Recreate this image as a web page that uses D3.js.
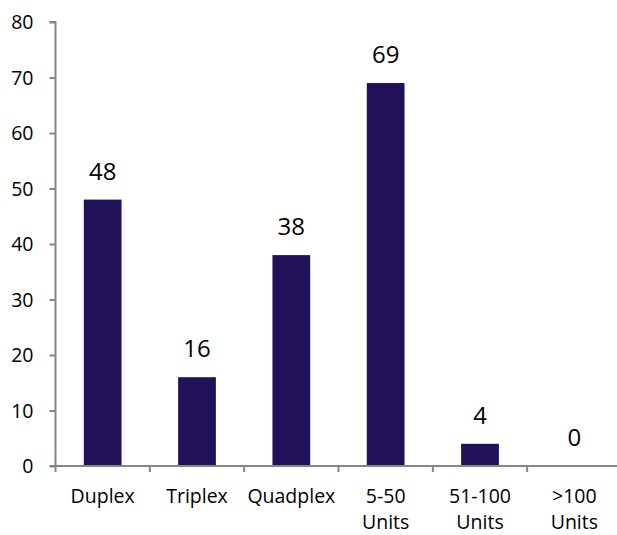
<!DOCTYPE html>
<html>
<head>
<meta charset="utf-8">
<script src="https://cdn.jsdelivr.net/npm/d3@7"></script>
<style>
  html, body { margin: 0; padding: 0; background: #fff; }
  svg { display: block; }
  text { font-family: "Open Sans", sans-serif; fill: #000; }
</style>
</head>
<body>
<svg id="chart" width="617" height="535"></svg>
<script>
const categories = [["Duplex"], ["Triplex"], ["Quadplex"], ["5-50", "Units"], ["51-100", "Units"], [">100", "Units"]];
const values = [48, 16, 38, 69, 4, 0];
const yTicks = [0, 10, 20, 30, 40, 50, 60, 70, 80];

const svg = d3.select("#chart");
const x0 = 55.5, x1 = 621.5, yBottom = 466, yTop = 22;
const keys = categories.map(c => c.join(" "));

const x = d3.scaleBand().domain(keys).range([x0, x1]).padding(0);
const y = d3.scaleLinear().domain([0, 80]).range([yBottom, yTop]);
const barW = x.bandwidth() * 0.4;
const axisColor = "#868686";

// Bars
svg.append("g").selectAll("rect").data(values).join("rect")
  .attr("x", (d, i) => x(keys[i]) + x.bandwidth() / 2 - barW / 2)
  .attr("y", d => y(d))
  .attr("width", barW)
  .attr("height", d => y(0) - y(d))
  .attr("fill", "#211159");

// Y axis
const yAxis = d3.axisLeft(y).tickValues(yTicks).tickSize(6).tickPadding(16);
const gy = svg.append("g").attr("transform", `translate(${x0},0)`).call(yAxis);
gy.select(".domain").attr("stroke", axisColor).attr("stroke-width", 2).attr("d", `M-6,${yTop}H0V${yBottom}`);
gy.selectAll(".tick line").attr("stroke", axisColor).attr("stroke-width", 2);
gy.selectAll(".tick text").attr("font-size", 19.5).attr("font-family", "Open Sans, sans-serif").attr("fill", "#000").attr("dy", "0.34em");

// X axis
const gx = svg.append("g").attr("transform", `translate(0,${yBottom})`);
gx.append("line").attr("x1", x0 - 6).attr("x2", x1).attr("y1", 0).attr("y2", 0)
  .attr("stroke", axisColor).attr("stroke-width", 2);
const boundaries = keys.map(k => x(k)).concat([x1]);
gx.selectAll("line.tk").data(boundaries).join("line").attr("class", "tk")
  .attr("x1", d => d).attr("x2", d => d).attr("y1", 0).attr("y2", 6)
  .attr("stroke", axisColor).attr("stroke-width", 2);
const labels = gx.selectAll("text.cat").data(categories).join("text").attr("class", "cat")
  .attr("text-anchor", "middle")
  .attr("font-size", 19.5)
  .attr("transform", (d, i) => `translate(${x(keys[i]) + x.bandwidth() / 2},37)`);
labels.selectAll("tspan").data(d => d).join("tspan")
  .attr("x", 0).attr("y", (d, j) => j * 26).text(d => d);

// Value labels
svg.append("g").selectAll("text").data(values).join("text")
  .attr("x", (d, i) => x(keys[i]) + x.bandwidth() / 2)
  .attr("y", d => y(d) - 20)
  .attr("text-anchor", "middle")
  .attr("font-size", 24)
  .text(d => d);
</script>
</body>
</html>
